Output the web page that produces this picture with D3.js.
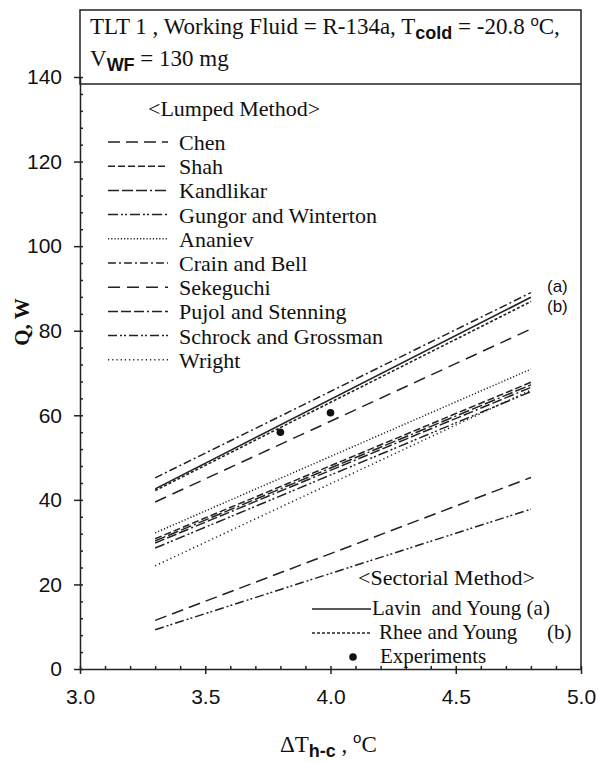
<!DOCTYPE html>
<html><head><meta charset="utf-8">
<script src="https://cdn.jsdelivr.net/npm/d3@7"></script>
<style>
body{margin:0;background:#fff}
svg{display:block}
.serif{font-family:"Liberation Serif","Times New Roman",serif;fill:#111}
.sans{font-family:"Liberation Sans",Arial,sans-serif;fill:#111}
</style>
</head><body><svg id="c" width="598" height="763"></svg>
<script>
// ---------- data ----------
const xPoints = [3.3, 4.8];
const lumpedNames = ["Chen","Shah","Kandlikar","Gungor and Winterton","Ananiev","Crain and Bell","Sekeguchi","Pujol and Stenning","Schrock and Grossman","Wright"];
const lumpedValues = [
  [11.5, 45.3],  // Chen
  [30.8, 67.8],  // Shah
  [30.3, 67.2],  // Kandlikar
  [28.6, 65.6],  // Gungor and Winterton
  [32.2, 70.9],  // Ananiev
  [45.2, 89.0],  // Crain and Bell
  [39.5, 80.4],  // Sekeguchi
  [29.8, 66.6],  // Pujol and Stenning
  [9.3, 37.8],   // Schrock and Grossman
  [24.4, 66.0]   // Wright
];
const sectorNames = ["Lavin  and Young (a)", "Rhee and Young"];
const sectorValues = [
  [42.6, 87.9],  // Lavin and Young
  [42.2, 86.9]   // Rhee and Young
];
const expX = [3.8, 4.0];
const expY = [56.0, 60.6];
const xTickValues = [3.0, 3.5, 4.0, 4.5, 5.0];
const yTickValues = [0, 20, 40, 60, 80, 100, 120, 140];

// ---------- styles ----------
const lumpedDash = ["12,6","7,3","11,3,11,3,11,3,2,3","10,3,2,2,2,3","1.2,2","8,3,2,3","12,7","10,3,10,3,10,3,2,3","9,3,2,2,2,3","1.2,3"];
const sectorDash = [null, "3,2"];
const stroke = "#222";
const subFont = "Liberation Sans, Arial, sans-serif";

// ---------- layout ----------
const svg = d3.select("#c");
const x = d3.scaleLinear().domain([3, 5]).range([80, 581]);
const y = d3.scaleLinear().domain([0, 140]).range([669, 77]);

// title box
svg.append("rect").attr("x", 80).attr("y", 10).attr("width", 501).attr("height", 74)
  .attr("fill", "none").attr("stroke", "#222").attr("stroke-width", 1.5);

const t1 = svg.append("text").attr("class", "serif").attr("x", 90).attr("y", 34).style("font-size", "23px");
t1.append("tspan").text("TLT 1 , Working Fluid = R-134a, T");
t1.append("tspan").attr("dy", 5).style("font-size", "18px").style("font-family", subFont).style("font-weight", "bold").text("cold");
t1.append("tspan").attr("dy", -5).text(" = -20.8 ");
t1.append("tspan").attr("dy", -8).style("font-size", "15px").style("font-family", subFont).text("o");
t1.append("tspan").attr("dy", 8).text("C,");

const t2 = svg.append("text").attr("class", "serif").attr("x", 90).attr("y", 66).style("font-size", "23px");
t2.append("tspan").text("V");
t2.append("tspan").attr("dy", 5).style("font-size", "18px").style("font-family", subFont).style("font-weight", "bold").text("WF");
t2.append("tspan").attr("dy", -5).text(" = 130 mg");

// right border
svg.append("line").attr("x1", 581).attr("x2", 581).attr("y1", 84).attr("y2", 669)
  .attr("stroke", "#222").attr("stroke-width", 1.5);

// axes
const xAxis = d3.axisBottom(x).tickValues(xTickValues).tickFormat(d3.format(".1f")).tickSizeInner(5).tickSizeOuter(0).tickPadding(15);
const gx = svg.append("g").attr("transform", "translate(0,669)").call(xAxis);
gx.selectAll("text").attr("class", "sans").style("font-size", "21px");
const xMinor = d3.axisBottom(x).tickValues(d3.range(30, 51).map(d => d / 10)).tickSizeInner(-3).tickSizeOuter(0).tickFormat("");
svg.append("g").attr("transform", "translate(0,669)").call(xMinor).select(".domain").remove();

const yAxis = d3.axisLeft(y).tickValues(yTickValues).tickSizeInner(6).tickSizeOuter(0).tickPadding(12);
const gy = svg.append("g").attr("transform", "translate(80,0)").call(yAxis);
gy.selectAll("text").attr("class", "sans").style("font-size", "21px");
const yMinor = d3.axisLeft(y).tickValues(d3.range(0, 141, 4)).tickSizeInner(-3).tickSizeOuter(0).tickFormat("");
svg.append("g").attr("transform", "translate(80,0)").call(yMinor).select(".domain").remove();
svg.selectAll(".domain, .tick line").attr("stroke", "#222").attr("stroke-width", 1.5);

// axis titles
svg.append("text").attr("class", "serif").attr("transform", "translate(29,322) rotate(-90)")
  .attr("text-anchor", "middle").style("font-size", "21px").style("font-weight", "bold").text("Q, W");

const xt = svg.append("text").attr("class", "serif").attr("x", 280).attr("y", 752).style("font-size", "23px");
xt.append("tspan").text("\u0394T");
xt.append("tspan").attr("dy", 5).style("font-size", "18px").style("font-family", subFont).style("font-weight", "bold").text("h-c");
xt.append("tspan").attr("dy", -5).text(" , ");
xt.append("tspan").attr("dy", -9).style("font-size", "15px").style("font-family", subFont).text("o");
xt.append("tspan").attr("dy", 9).text("C");

// series lines
const line = d3.line().x((d, i) => x(xPoints[i])).y(d => y(d));
lumpedValues.forEach((vals, i) => {
  svg.append("path").attr("d", line(vals)).attr("fill", "none").attr("stroke", stroke)
    .attr("stroke-width", 1.5).attr("stroke-dasharray", lumpedDash[i]);
});
sectorValues.forEach((vals, i) => {
  svg.append("path").attr("d", line(vals)).attr("fill", "none").attr("stroke", stroke)
    .attr("stroke-width", 1.6).attr("stroke-dasharray", sectorDash[i]);
});

// experiments
svg.selectAll("circle.exp").data(expX).enter().append("circle").attr("class", "exp")
  .attr("cx", d => x(d)).attr("cy", (d, i) => y(expY[i])).attr("r", 3.8).attr("fill", "#111");

// (a)/(b) labels
svg.append("text").attr("class", "sans").attr("x", 547).attr("y", 292).style("font-size", "17px").text("(a)");
svg.append("text").attr("class", "sans").attr("x", 547).attr("y", 312).style("font-size", "17px").text("(b)");

// lumped legend
svg.append("text").attr("class", "serif").attr("x", 148).attr("y", 116).style("font-size", "22px").text("<Lumped Method>");
lumpedNames.forEach((name, i) => {
  const ly = 142 + i * 24.2;
  svg.append("line").attr("x1", 108).attr("x2", 168).attr("y1", ly).attr("y2", ly)
    .attr("stroke", stroke).attr("stroke-width", 1.5).attr("stroke-dasharray", lumpedDash[i]);
  svg.append("text").attr("class", "serif").attr("x", 179).attr("y", ly + 8).style("font-size", "22px").text(name);
});

// sectorial legend
svg.append("text").attr("class", "serif").attr("x", 358).attr("y", 585).style("font-size", "22px").text("<Sectorial Method>");
const secRows = [609, 633];
sectorNames.forEach((name, i) => {
  svg.append("line").attr("x1", 312).attr("x2", 371).attr("y1", secRows[i]).attr("y2", secRows[i])
    .attr("stroke", stroke).attr("stroke-width", 1.6).attr("stroke-dasharray", sectorDash[i]);
  svg.append("text").attr("class", "serif").attr("x", i === 0 ? 372 : 379).attr("y", secRows[i] + 6)
    .style("font-size", "21px").style("white-space", "pre").text(name);
});
svg.append("text").attr("class", "serif").attr("x", 547).attr("y", 639).style("font-size", "21px").text("(b)");
svg.append("circle").attr("cx", 353).attr("cy", 657).attr("r", 3.8).attr("fill", "#111");
svg.append("text").attr("class", "serif").attr("x", 380).attr("y", 663).style("font-size", "21px").text("Experiments");
</script>
</body></html>
